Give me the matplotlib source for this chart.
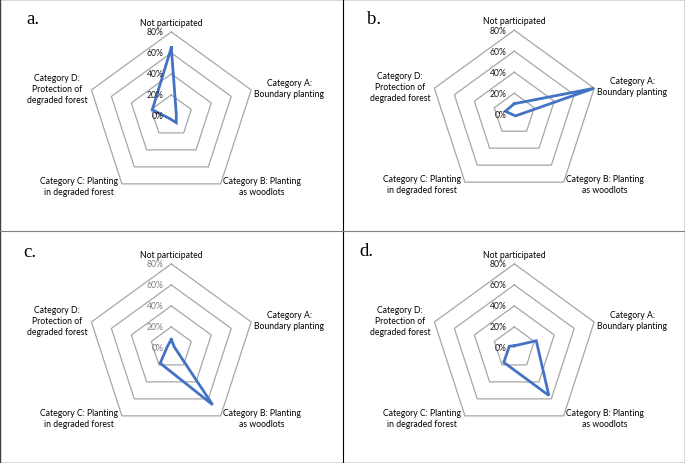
import numpy as np
import matplotlib.pyplot as plt

categories = ['Not participated',
              'Category A:\nBoundary planting',
              'Category B: Planting\nas woodlots',
              'Category C: Planting\nin degraded forest',
              'Category D:\nProtection of\ndegraded forest']
rings = [20, 40, 60, 80]
tick_values = [0, 20, 40, 60, 80]
tick_labels = ['0%', '20%', '40%', '60%', '80%']

panel_names = ['a.', 'b.', 'c.', 'd.']
panel_a = [65, 5, 8, 3, 19]
panel_b = [10, 80, 2, 1, 9]
panel_c = [8, 3, 67, 18, 4]
panel_d = [2, 22, 56, 17, 5]
panels = [panel_a, panel_b, panel_c, panel_d]

W, H = 685, 464
fig = plt.figure(figsize=(W / 100, H / 100), dpi=100)

label_font = 'Lato'
label_size = 6.2
blue = '#4472C4'
grid_col = '#a6a6a6'

# where each panel's chart centre sits (pixels from top-left)
centres = [(171.3, 116.9), (514.3, 115.2), (171.3, 348.9), (514.3, 348.9)]
name_pos = [(33, 19), (374, 19), (30, 253), (366, 252)]
R = 84  # radius of the 80% ring in pixels

# label placement around the outer vertex: offset px, ha
label_style = [((0, 9.5), 'center'),
               ((3, 2), 'left'),
               ((2, -2), 'left'),
               ((-3.5, -2), 'right'),
               ((-4, 1.5), 'right')]

angles = np.linspace(0, 2 * np.pi, len(categories), endpoint=False)
closed = np.append(angles, angles[0])

for i, vals in enumerate(panels):
    cx, cy = centres[i]
    ax = fig.add_axes([(cx - R) / W, 1 - (cy + R) / H, 2 * R / W, 2 * R / H],
                      projection='polar')
    ax.set_theta_zero_location('N')
    ax.set_theta_direction(-1)
    ax.set_ylim(0, 80)
    ax.set_axis_off()

    for r in rings:
        ax.plot(closed, [r] * len(closed), color=grid_col, lw=0.9, clip_on=False)

    tick_col = '#7f7f7f' if i == 2 else '#1a1a1a'
    for tv, tl in zip(tick_values, tick_labels):
        ax.annotate(tl, (0, tv), xytext=(-8, 0), textcoords='offset pixels',
                    ha='right', va='center', fontsize=label_size, family=label_font,
                    color=tick_col, annotation_clip=False)

    v = list(vals) + [vals[0]]
    ax.plot(closed, v, color=blue, lw=2.0, solid_joinstyle='miter', clip_on=False)

    for ang, cat, (off, ha) in zip(angles, categories, label_style):
        ax.annotate(cat, (ang, 80), xytext=off, textcoords='offset pixels',
                    ha=ha, va='center', multialignment='center', fontsize=label_size,
                    family=label_font, color='black', linespacing=1.3,
                    annotation_clip=False)

    nx, ny = name_pos[i]
    fig.text(nx / W, 1 - ny / H, panel_names[i], ha='center', va='center',
             fontsize=13.5, family='Liberation Serif')

# panel frames
fig.add_artist(plt.Line2D([342.5 / W, 342.5 / W], [0, 1], color='black', lw=0.8))
fig.add_artist(plt.Line2D([0, 1], [1 - 232 / H, 1 - 232 / H], color='#7f7f7f', lw=0.8))
fig.add_artist(plt.Rectangle((0.0007, 0.001), 0.9986, 0.998, fill=False,
                             edgecolor='#404040', lw=1.0))

fig.savefig('out.png', dpi=100)
